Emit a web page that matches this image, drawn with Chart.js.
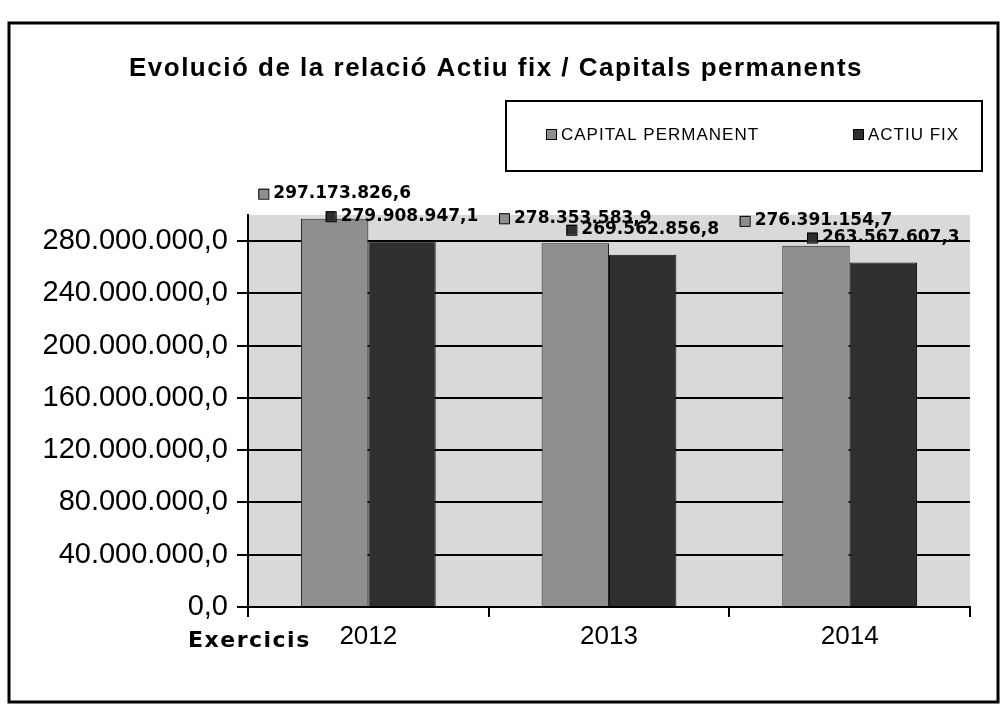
<!DOCTYPE html>
<html>
<head>
<meta charset="utf-8">
<script src="https://cdn.jsdelivr.net/npm/chart.js@4/dist/chart.umd.min.js"></script>
<style>
  html, body { margin: 0; padding: 0; background: #fff; }
  #wrap { position: relative; width: 1008px; height: 704px; }
</style>
</head>
<body>
<div id="wrap"><canvas id="chart" width="1008" height="704"></canvas></div>
<script>
// values
const years = ['2012', '2013', '2014'];
const capitalPermanent = [297173826.6, 278353583.9, 276391154.7];
const actiuFix = [279908947.1, 269562856.8, 263567607.3];
const seriesNames = ['CAPITAL PERMANENT', 'ACTIU FIX'];
const yTickValues = [0, 40000000, 80000000, 120000000, 160000000, 200000000, 240000000, 280000000];
const yMax = 300000000;

const title = 'Evolució de la relació Actiu fix / Capitals permanents';
const xTitle = 'Exercicis';

const cpColor = '#8e8e8e';
const afColor = '#2f2f2f';

// 297173826.6 -> "297.173.826,6"
function fmt(v) {
  const parts = v.toFixed(1).split('.');
  const int = parts[0].replace(/\B(?=(\d{3})+(?!\d))/g, '.');
  return int + ',' + parts[1];
}

const decor = {
  id: 'decor',
  beforeDraw(chart) {
    const { ctx, chartArea: a } = chart;
    ctx.save();
    ctx.fillStyle = '#fff';
    ctx.fillRect(0, 0, chart.width, chart.height);
    ctx.fillStyle = '#d9d9d9';
    ctx.fillRect(a.left, a.top, a.right - a.left, a.bottom - a.top);
    ctx.restore();
  },
  afterDatasetsDraw(chart) {
    const ctx = chart.ctx;
    ctx.save();
    ctx.font = 'bold 17px "DejaVu Sans"';
    ctx.textBaseline = 'middle';
    ctx.textAlign = 'left';
    chart.data.datasets.forEach((ds, i) => {
      chart.getDatasetMeta(i).data.forEach((bar, j) => {
        const txt = fmt(ds.data[j]);
        const w = ctx.measureText(txt).width;
        const total = 15 + w;
        const x0 = bar.x - total / 2;
        const y = bar.y - 25;
        ctx.fillStyle = ds.backgroundColor;
        ctx.fillRect(x0, y - 5, 10, 10);
        ctx.strokeStyle = '#000';
        ctx.lineWidth = 1;
        ctx.strokeRect(x0 + 0.5, y - 4.5, 10, 10);
        ctx.fillStyle = '#000';
        ctx.fillText(txt, x0 + 15, y);
      });
    });
    ctx.restore();
  },
  afterDraw(chart) {
    const ctx = chart.ctx;
    ctx.save();
    // outer frame
    ctx.strokeStyle = '#000';
    ctx.lineWidth = 3;
    ctx.strokeRect(9, 23, 989, 679);

    // title
    ctx.fillStyle = '#000';
    ctx.font = 'bold 26px "Liberation Sans"';
    ctx.letterSpacing = '1.5px';
    ctx.textAlign = 'center';
    ctx.textBaseline = 'middle';
    ctx.fillText(title, 496, 69);

    // legend box
    ctx.lineWidth = 2;
    ctx.strokeRect(506, 101, 476, 70);
    ctx.font = '17px "Liberation Sans"';
    ctx.letterSpacing = '1px';
    ctx.textAlign = 'left';
    const items = [[546, cpColor], [853, afColor]];
    items.forEach((it, i) => {
      ctx.fillStyle = it[1];
      ctx.fillRect(it[0], 129, 10, 10);
      ctx.lineWidth = 1;
      ctx.strokeRect(it[0] + 0.5, 129.5, 10, 10);
      ctx.fillStyle = '#000';
      ctx.fillText(seriesNames[i], it[0] + 15, 135);
    });

    // axis title to the left of the first year
    ctx.font = 'bold 22px "DejaVu Sans"';
    ctx.letterSpacing = '1.5px';
    ctx.fillText(xTitle, 188, 641);
    ctx.restore();
  }
};

const ctx = document.getElementById('chart').getContext('2d');
new Chart(ctx, {
  type: 'bar',
  data: {
    labels: years,
    datasets: [
      { label: seriesNames[0], data: capitalPermanent, backgroundColor: cpColor,
        borderColor: '#222', borderWidth: 1 },
      { label: seriesNames[1], data: actiuFix, backgroundColor: afColor,
        borderColor: '#111', borderWidth: 1 }
    ]
  },
  options: {
    responsive: false,
    devicePixelRatio: 1,
    animation: false,
    layout: { padding: { left: 0, right: 38, top: 215, bottom: 37 } },
    datasets: { bar: { categoryPercentage: 0.56, barPercentage: 1.0 } },
    plugins: {
      legend: { display: false },
      title: { display: false },
      tooltip: { enabled: false }
    },
    scales: {
      x: {
        grid: { display: true, drawOnChartArea: false, tickLength: 10, color: '#000', lineWidth: 2 },
        border: { display: true, color: '#000', width: 2 },
        ticks: { color: '#000', padding: 4, font: { family: 'Liberation Sans', size: 26 } },
        afterFit(scale) { scale.height = 60; }
      },
      y: {
        min: 0,
        max: yMax,
        grid: { color: '#000', lineWidth: 2, tickLength: 11 },
        border: { display: true, color: '#000', width: 2 },
        ticks: {
          color: '#000',
          padding: 9,
          autoSkip: false,
          font: { family: 'Liberation Sans', size: 29 },
          callback: (v) => fmt(v)
        },
        afterBuildTicks(scale) {
          scale.ticks = yTickValues.map(v => ({ value: v }));
        },
        afterFit(scale) { scale.width = 248; }
      }
    }
  },
  plugins: [decor]
});
</script>
</body>
</html>
